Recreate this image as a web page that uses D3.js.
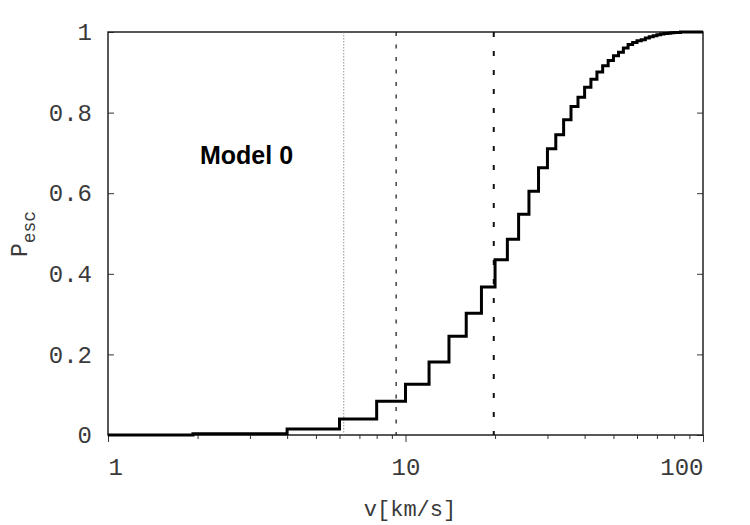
<!DOCTYPE html>
<html>
<head>
<meta charset="utf-8">
<script src="https://cdn.jsdelivr.net/npm/d3@7"></script>
<style>
  body { margin: 0; background: #fff; }
  .tick text { font-family: "Liberation Mono", "Courier New", monospace; fill: #3a3a3a; }
  .axisLabel { font-family: "Liberation Mono", "Courier New", monospace; fill: #3a3a3a; }
</style>
</head>
<body>
<div id="chart"></div>
<script>
  var width = 750;
  var height = 525;
  var margin = { top: 32, right: 47, bottom: 90, left: 108 };

  // cumulative escape probability, steps
  var stepV = [1.93, 4, 6, 8, 10, 12, 14, 16, 18, 20, 22, 24, 26, 28, 30, 32, 34, 36, 38, 40,
               42, 44, 46, 48, 50, 52, 54, 56, 58, 60, 62, 64, 66, 68, 70, 72, 74, 76, 78, 80,
               82, 84, 86, 88, 90, 100];
  var stepP = [0.003, 0.015, 0.040, 0.084, 0.126, 0.181, 0.245, 0.302, 0.367, 0.435, 0.486, 0.548,
               0.605, 0.663, 0.710, 0.745, 0.782, 0.815, 0.838, 0.863, 0.883, 0.901, 0.916, 0.929,
               0.941, 0.950, 0.960, 0.969, 0.974, 0.978, 0.981, 0.985, 0.988, 0.991, 0.993, 0.995,
               0.996, 0.997, 0.998, 0.999, 0.999, 1.0, 1.0, 1.0, 1.0, 1.0];

  var vLines = [
    { v: 6.2, dash: "1.5,1.5", w: 0.8, color: "#777" },
    { v: 9.3, dash: "4,8.5", w: 1.2, color: "#111" },
    { v: 19.8, dash: "5,14", w: 2, color: "#111" }
  ];

  var xMajor = [1, 10, 100];
  var xMinor = [2, 3, 4, 5, 6, 7, 8, 9, 20, 30, 40, 50, 60, 70, 80, 90];
  var yTicks = [0, 0.2, 0.4, 0.6, 0.8, 1];
  var yLabels = ["0", "0.2", "0.4", "0.6", "0.8", "1"];

  var svg = d3.select("#chart")
    .append("svg")
    .attr("width", width)
    .attr("height", height);

  svg.append("rect").attr("width", width).attr("height", height).attr("fill", "#fff");

  var xScale = d3.scaleLog()
    .domain([1, 100])
    .range([margin.left, width - margin.right]);

  var yScale = d3.scaleLinear()
    .domain([0, 1])
    .range([height - margin.bottom, margin.top]);

  // minor x ticks
  svg.append("g")
    .attr("transform", `translate(0,${height - margin.bottom})`)
    .call(d3.axisBottom(xScale).tickValues(xMinor).tickSize(4).tickFormat(""))
    .call(g => g.select(".domain").remove())
    .selectAll("line").attr("stroke", "#333");

  var xAxis = svg.append("g")
    .attr("transform", `translate(0,${height - margin.bottom})`)
    .call(d3.axisBottom(xScale).tickValues(xMajor).tickSize(7).tickPadding(16)
      .tickFormat(d3.format("d")));
  xAxis.select(".domain").remove();
  xAxis.selectAll("line").attr("stroke", "#333");
  xAxis.selectAll("text")
    .attr("font-size", 24)
    .attr("text-anchor", function(d) { return d == 1 ? "start" : d == 100 ? "end" : "middle"; });

  var yAxis = svg.append("g")
    .attr("transform", `translate(${margin.left},0)`)
    .call(d3.axisLeft(yScale).tickValues(yTicks).tickSize(-6).tickPadding(16)
      .tickFormat(function(d, i) { return yLabels[i]; }));
  yAxis.select(".domain").remove();
  yAxis.selectAll("line").attr("stroke", "#333");
  yAxis.selectAll("text").attr("font-size", 24);

  var yAxisRight = svg.append("g")
    .attr("transform", `translate(${width - margin.right},0)`)
    .call(d3.axisRight(yScale).tickValues(yTicks).tickSize(-6).tickFormat(""));
  yAxisRight.select(".domain").remove();
  yAxisRight.selectAll("line").attr("stroke", "#333");

  // frame
  svg.append("rect")
    .attr("x", margin.left)
    .attr("y", margin.top)
    .attr("width", width - margin.left - margin.right)
    .attr("height", height - margin.top - margin.bottom)
    .attr("fill", "none")
    .attr("stroke", "#222")
    .attr("stroke-width", 1.5);

  // vertical reference lines
  svg.selectAll(".vline")
    .data(vLines)
    .enter()
    .append("line")
      .attr("class", "vline")
      .attr("x1", function(d) { return xScale(d.v); })
      .attr("x2", function(d) { return xScale(d.v); })
      .attr("y1", yScale(1))
      .attr("y2", yScale(0))
      .attr("stroke", function(d) { return d.color; })
      .attr("stroke-width", function(d) { return d.w; })
      .attr("stroke-dasharray", function(d) { return d.dash; });

  // step curve
  var pts = [[1, 0]].concat(stepV.map(function(v, i) { return [v, stepP[i]]; }));
  var line = d3.line()
    .x(function(d) { return xScale(d[0]); })
    .y(function(d) { return yScale(d[1]); })
    .curve(d3.curveStepAfter);

  svg.append("path")
    .datum(pts)
    .attr("d", line)
    .attr("fill", "none")
    .attr("stroke", "#000")
    .attr("stroke-width", 3);

  svg.append("text")
    .attr("x", 200)
    .attr("y", 164)
    .attr("font-family", "Liberation Sans, Arial, sans-serif")
    .attr("font-weight", "bold")
    .attr("font-size", 25)
    .attr("fill", "#000")
    .text("Model 0");

  svg.append("text")
    .attr("class", "axisLabel")
    .attr("x", 410)
    .attr("y", 516)
    .attr("text-anchor", "middle")
    .attr("font-size", 22)
    .text("v[km/s]");

  var yAxisLabel = svg.append("text")
    .attr("class", "axisLabel")
    .attr("transform", "rotate(-90)")
    .attr("x", -234)
    .attr("y", 27)
    .attr("text-anchor", "middle");
  yAxisLabel.append("tspan").attr("font-size", 23).text("P");
  yAxisLabel.append("tspan").attr("font-size", 18).attr("dy", 8).text("esc");
</script>
</body>
</html>
